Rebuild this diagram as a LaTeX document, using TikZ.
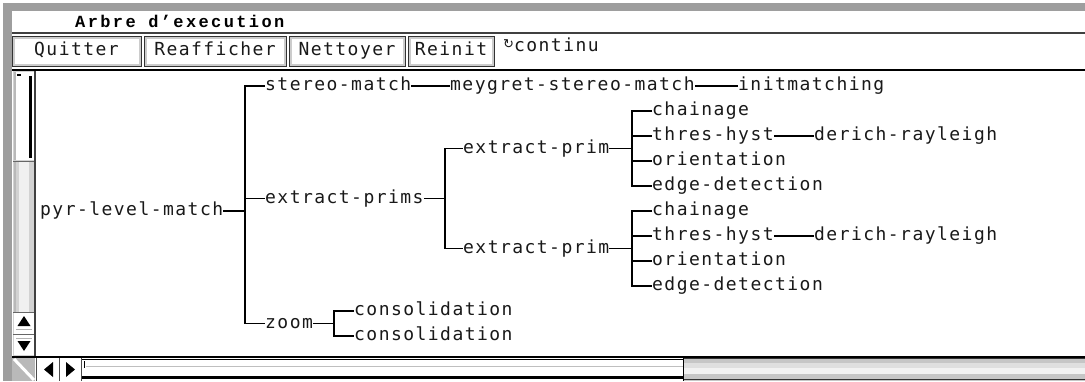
\documentclass[tikz,border=0pt]{standalone}
\usepackage{fontspec}
\newfontfamily\monof[LetterSpace=8.1]{DejaVu Sans Mono}
\newfontfamily\titlef[LetterSpace=14]{Liberation Mono}
\newfontfamily\symf{DejaVu Sans}
\newcommand{\tf}{\monof\fontsize{18}{20}\selectfont}
\begin{document}
\begin{tikzpicture}[x=1pt,y=-1pt,
  tnode/.style={inner sep=0pt, text height=13pt, text depth=4pt, anchor=west, font=\tf, text=black!90},
  conn/.style={draw=black, line width=1.2pt},
  btn/.style={inner sep=0pt, font=\tf, text height=13pt, text depth=4pt, text=black!90,
    minimum height=30pt, draw=black!80, line width=1pt, fill=gray!40,
    path picture={\fill[white] ([xshift=2.5pt,yshift=2.5pt]path picture bounding box.south west)
      rectangle ([xshift=-2.5pt,yshift=-2.5pt]path picture bounding box.north east);}},
  hatch/.style={fill=black!38}]
\useasboundingbox (0,0) rectangle (1085,381);
\fill[white] (0,0) rectangle (1085,381);
% window frame
\fill[hatch] (3,3) rectangle (1085,11);
\fill[hatch] (3,3) rectangle (12,381);
% title
\node[anchor=west, inner sep=0pt, font=\titlef\bfseries\fontsize{17}{18}\selectfont] (title) at (75,21) {Arbre d’execution};
\draw[black!75, line width=1.6pt] (12,33) -- (1085,33);
% buttons
\node[btn, minimum width=129pt] (quit) at (76.5,51) {Quitter};
\node[btn, minimum width=142pt] (reaf) at (215,51) {Reafficher};
\node[btn, minimum width=116pt] (nett) at (347,51) {Nettoyer};
\node[btn, minimum width=86pt] (rein) at (451,51) {Reinit};
\node[tnode] (cont) at (503,47) {\raisebox{3pt}{\symf\fontsize{13}{13}\selectfont ↻}continu};
\draw[black, line width=2pt] (12,69.5) -- (1085,69.5);
% left scrollbar
\fill[gray!35] (13,71) rectangle (35,356);
\fill[white] (14,72) rectangle (34,160);
\fill[gray!55] (14,72) rectangle (16,160);
\fill[black] (28.5,76) rectangle (32,158);
\fill[black] (17,74) rectangle (21,75.5);
\draw[black!60, line width=1pt] (13,161) -- (35,161);
\fill[gray!12] (19,162) rectangle (29,312);
\fill[gray!55] (14,162) rectangle (16,312);
\fill[white] (14,313) rectangle (34,334);
\draw[black!60] (13,312.5) -- (35,312.5) (13,334.5) -- (35,334.5);
\fill[black] (24,316) -- (17.5,326) -- (30.5,326) -- cycle;
\draw[gray!60, line width=1pt] (16,329) -- (32,329);
\fill[white] (14,335) rectangle (34,355);
\fill[black] (24,351) -- (17.5,341) -- (30.5,341) -- cycle;
\draw[gray!60, line width=1pt] (16,338) -- (32,338);
\draw[black!75, line width=1.2pt] (35,71) -- (35,357);
% bottom scrollbar
\draw[black, line width=1.6pt] (12,357) -- (1085,357);
\fill[gray!55] (12,358) rectangle (35,381);
\draw[white, line width=3pt] (14,359) -- (34,380);
\fill[white] (37,358) rectangle (58,381);
\fill[white] (60,358) rectangle (80,381);
\draw[black!70] (36,358) -- (36,381) (59,358) -- (59,381) (81,358) -- (81,381);
\fill[black] (44,369.5) -- (53,362) -- (53,377) -- cycle;
\fill[black] (75,369.5) -- (66,362) -- (66,377) -- cycle;
\fill[white] (82,358) rectangle (683,381);
\draw[black, line width=1pt] (82,359.5) -- (683,359.5);
\draw[gray!50, line width=1pt] (86,366) -- (683,366);
\draw[black, line width=3pt] (82,377) -- (683,377);
\draw[black, line width=1pt] (84,361) -- (84,368);
\fill[gray!45] (684,358) rectangle (1085,381);
\fill[gray!25] (684,363) rectangle (1085,368);
\fill[gray!10] (684,368) rectangle (1085,374);
\draw[black!80, line width=1pt] (684,358.5) -- (1085,358.5);
\draw[black!80, line width=1pt] (684,379.5) -- (1085,379.5);
\draw[black, line width=1.5pt] (683.5,358) -- (683.5,381);
% tree nodes
\node[tnode] (pyr) at (40,211) {pyr-level-match};
\node[tnode] (stm) at (265,86) {stereo-match};
\node[tnode] (mey) at (450,86) {meygret-stereo-match};
\node[tnode] (ini) at (738,86) {initmatching};
\node[tnode] (eps) at (265,198.5) {extract-prims};
\node[tnode] (ep1) at (463,148.5) {extract-prim};
\node[tnode] (ch1) at (652,111) {chainage};
\node[tnode] (th1) at (652,136) {thres-hyst};
\node[tnode] (dr1) at (814,136) {derich-rayleigh};
\node[tnode] (or1) at (652,161) {orientation};
\node[tnode] (ed1) at (652,186) {edge-detection};
\node[tnode] (ep2) at (463,248.5) {extract-prim};
\node[tnode] (ch2) at (652,211) {chainage};
\node[tnode] (th2) at (652,236) {thres-hyst};
\node[tnode] (dr2) at (814,236) {derich-rayleigh};
\node[tnode] (or2) at (652,261) {orientation};
\node[tnode] (ed2) at (652,286) {edge-detection};
\node[tnode] (zm) at (265,323.5) {zoom};
\node[tnode] (co1) at (354,311) {consolidation};
\node[tnode] (co2) at (354,336) {consolidation};
% buses
\coordinate (bA) at (245,0);
\coordinate (bB) at (445,0);
\coordinate (bC) at (632,0);
\coordinate (bD) at (334,0);
% connectors
\draw[conn] (pyr.east) -- (pyr.east -| bA);
\draw[conn] (stm.west) -- (stm.west -| bA) |- (zm.west);
\draw[conn] (eps.west) -- (eps.west -| bA);
\draw[conn] (stm.east) -- (mey.west);
\draw[conn] (mey.east) -- (ini.west);
\draw[conn] (eps.east) -- (eps.east -| bB);
\draw[conn] (ep1.west) -- (ep1.west -| bB) |- (ep2.west);
\draw[conn] (ep1.east) -- (ep1.east -| bC);
\draw[conn] (ch1.west) -- (ch1.west -| bC) |- (ed1.west);
\draw[conn] (th1.west) -- (th1.west -| bC);
\draw[conn] (or1.west) -- (or1.west -| bC);
\draw[conn] (th1.east) -- (dr1.west);
\draw[conn] (ep2.east) -- (ep2.east -| bC);
\draw[conn] (ch2.west) -- (ch2.west -| bC) |- (ed2.west);
\draw[conn] (th2.west) -- (th2.west -| bC);
\draw[conn] (or2.west) -- (or2.west -| bC);
\draw[conn] (th2.east) -- (dr2.west);
\draw[conn] (zm.east) -- (zm.east -| bD);
\draw[conn] (co1.west) -- (co1.west -| bD) |- (co2.west);
\end{tikzpicture}
\end{document}
